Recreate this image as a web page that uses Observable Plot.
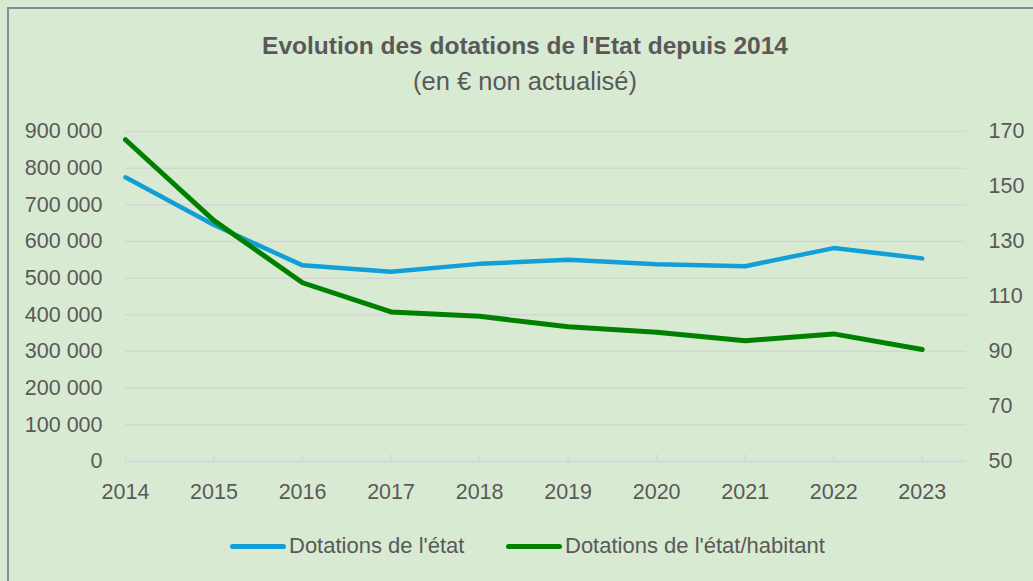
<!DOCTYPE html>
<html>
<head>
<meta charset="utf-8">
<script src="https://cdn.jsdelivr.net/npm/d3@7"></script>
<script src="https://cdn.jsdelivr.net/npm/@observablehq/plot@0.6"></script>
<style>
  html, body { margin: 0; padding: 0; }
  body { width: 1033px; height: 581px; overflow: hidden; background: #d9ead3; position: relative; font-family: "Liberation Sans", Arial, sans-serif; }
  #frame { position: absolute; left: 7px; top: 7px; width: 1060px; height: 600px; border: 2px solid #7a909c; box-sizing: border-box; }
  #title { position: absolute; left: 0; width: 1050px; top: 31px; text-align: center; color: #595959; font-size: 24.5px; font-weight: bold; line-height: 30px; }
  #subtitle { position: absolute; left: 0; width: 1050px; top: 66px; text-align: center; color: #595959; font-size: 25.5px; line-height: 30px; }
  #chart { position: absolute; left: 0; top: 0; }
  #legend { position: absolute; top: 532px; left: 0; width: 1033px; height: 28px; color: #595959; font-size: 22px; }
  .item { position: absolute; top: 0; display: flex; align-items: center; height: 28px; }
  .sw { width: 56px; height: 5px; border-radius: 3px; margin-right: 3px; }
</style>
</head>
<body>
<div id="frame"></div>
<div id="chart"></div>
<div id="title">Evolution des dotations de l'Etat depuis 2014</div>
<div id="subtitle">(en € non actualisé)</div>
<div id="legend"></div>
<script>
const years = [2014, 2015, 2016, 2017, 2018, 2019, 2020, 2021, 2022, 2023];
const dotations = [775000, 645000, 535000, 517500, 539000, 550000, 538000, 532500, 582000, 554000];
const dotationsHabitant = [167, 137.6, 115, 104.4, 102.8, 99.0, 97.0, 93.9, 96.4, 90.7];
const leftTicks = [0, 100000, 200000, 300000, 400000, 500000, 600000, 700000, 800000, 900000];
const rightTicks = [50, 70, 90, 110, 130, 150, 170];
const seriesNames = ["Dotations de l'état", "Dotations de l'état/habitant"];
const seriesColors = ["#129ed6", "#008000"];

const leftMax = 900000, rMin = 50, rMax = 170;
const toLeft = v => (v - rMin) / (rMax - rMin) * leftMax;
const fmt = d => d3.format(",")(d).replace(/,/g, " ");

const blue = years.map((y, i) => ({year: y, v: dotations[i]}));
const green = years.map((y, i) => ({year: y, v: toLeft(dotationsHabitant[i])}));

const chart = Plot.plot({
  width: 1033,
  height: 581,
  marginLeft: 125,
  marginRight: 67,
  marginTop: 131,
  marginBottom: 120,
  style: {background: "transparent", fontFamily: "'Liberation Sans', Arial, sans-serif", fontSize: "21.5px", color: "#595959"},
  x: {domain: [2014, 2023.5]},
  y: {domain: [0, leftMax]},
  marks: [
    Plot.gridY(leftTicks, {stroke: "#d6d6d6", strokeOpacity: 1, strokeWidth: 1.5}),
    Plot.ruleY([0], {stroke: "#d6d6d6", strokeWidth: 1.5}),
    Plot.ruleX(years, {y1: 0, y2: 7 / 330 * leftMax, stroke: "#d6d6d6", strokeWidth: 1.5}),
    Plot.axisY(leftTicks, {anchor: "left", tickSize: 0, tickPadding: 23, tickFormat: fmt, label: null, fill: "#595959"}),
    Plot.axisY(rightTicks.map(toLeft), {anchor: "right", tickSize: 0, tickPadding: 22, textAnchor: "start", tickFormat: d => String(Math.round(d / leftMax * (rMax - rMin) + rMin)), label: null, fill: "#595959"}),
    Plot.axisX(years, {anchor: "bottom", tickSize: 0, tickPadding: 22, tickFormat: d => String(d), label: null, fill: "#595959"}),
    Plot.line(blue, {x: "year", y: "v", stroke: seriesColors[0], strokeWidth: 4.5, strokeLinecap: "round", strokeLinejoin: "round"}),
    Plot.line(green, {x: "year", y: "v", stroke: seriesColors[1], strokeWidth: 5, strokeLinecap: "round", strokeLinejoin: "round"})
  ]
});
document.getElementById("chart").appendChild(chart);

const legend = document.getElementById("legend");
const lefts = [230, 506];
seriesNames.forEach((name, i) => {
  const it = document.createElement("div");
  it.className = "item";
  it.style.left = lefts[i] + "px";
  const sw = document.createElement("span");
  sw.className = "sw";
  sw.style.background = seriesColors[i];
  const tx = document.createElement("span");
  tx.textContent = name;
  it.appendChild(sw);
  it.appendChild(tx);
  legend.appendChild(it);
});
</script>
</body>
</html>
